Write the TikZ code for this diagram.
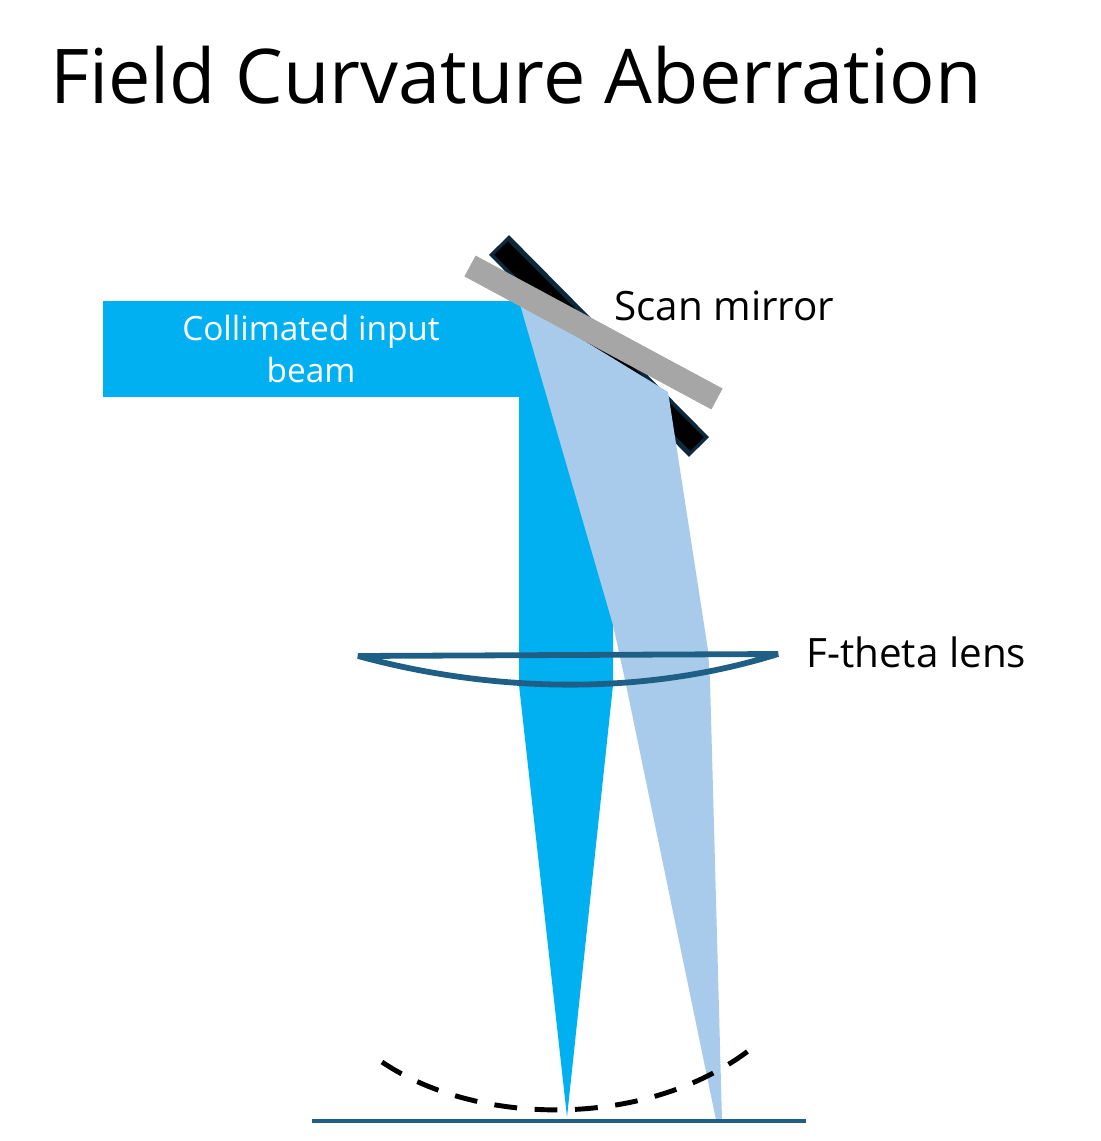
\documentclass[tikz,border=0pt]{standalone}
\usepackage{fontspec}
\setmainfont{Open Sans}
\usetikzlibrary{positioning}
\definecolor{beamcyan}{HTML}{00B0F0}
\definecolor{beamlight}{HTML}{A9CBEB}
\definecolor{lensblue}{HTML}{1F5F86}
\definecolor{mirrordark}{HTML}{0D2A3D}
\definecolor{mirrorgray}{HTML}{A6A6A6}
\begin{document}
\begin{tikzpicture}[x=0.02cm,y=-0.02cm,
    lens line/.style={draw=lensblue,line width=3.3pt},
    label text/.style={font=\fontsize{23}{28}\selectfont,anchor=west,inner sep=0pt}]
   \useasboundingbox (0,0) rectangle (1100,1141);
   % title
   \node[anchor=west,inner sep=0pt,font=\fontsize{43}{52}\selectfont] (title) at (50,75) {Field Curvature Aberration};
   % scan mirror (back)
   \draw[mirrordark,line width=16pt] (499,245) -- (699,447);
   \draw[black,line width=11pt] (501,248) -- (697,444);
   % input beam and focused beam
   \fill[beamcyan] (103,301) -- (519,301) -- (519,397) -- (103,397) -- cycle;
   \fill[beamcyan] (519,301) -- (613,360) -- (613,685) -- (567,1117) -- (519,685) -- cycle;
   % scanned beam
   \fill[beamlight] (519,301) -- (668,392) -- (708,650) -- (710,680) -- (722,1120) -- (716,1120) -- (625,680) -- (613,625) -- cycle;
   % scan mirror (front)
   \draw[mirrorgray,line width=13.5pt] (470,266) -- (717,399);
   % lens
   \draw[lens line,line join=bevel] (358,656) -- (778,654) .. controls (640,697) and (490,692) .. (358,656) -- cycle;
   % image plane
   \draw[lensblue,line width=2.8pt] (312,1121) -- (806,1121);
   \draw[black,line width=2.8pt,dash pattern=on 13pt off 10pt] (382,1062) .. controls (480,1128) and (650,1128) .. (752,1048);
   % labels
   \node[font=\fontsize{19}{24}\selectfont,text=white,align=center] (beam) at (311,349) {Collimated input\\beam};
   \node[label text] (mirror) at (614,306) {Scan mirror};
   \node[label text] (lens) at (806,652) {F-theta lens};
\end{tikzpicture}
\end{document}
